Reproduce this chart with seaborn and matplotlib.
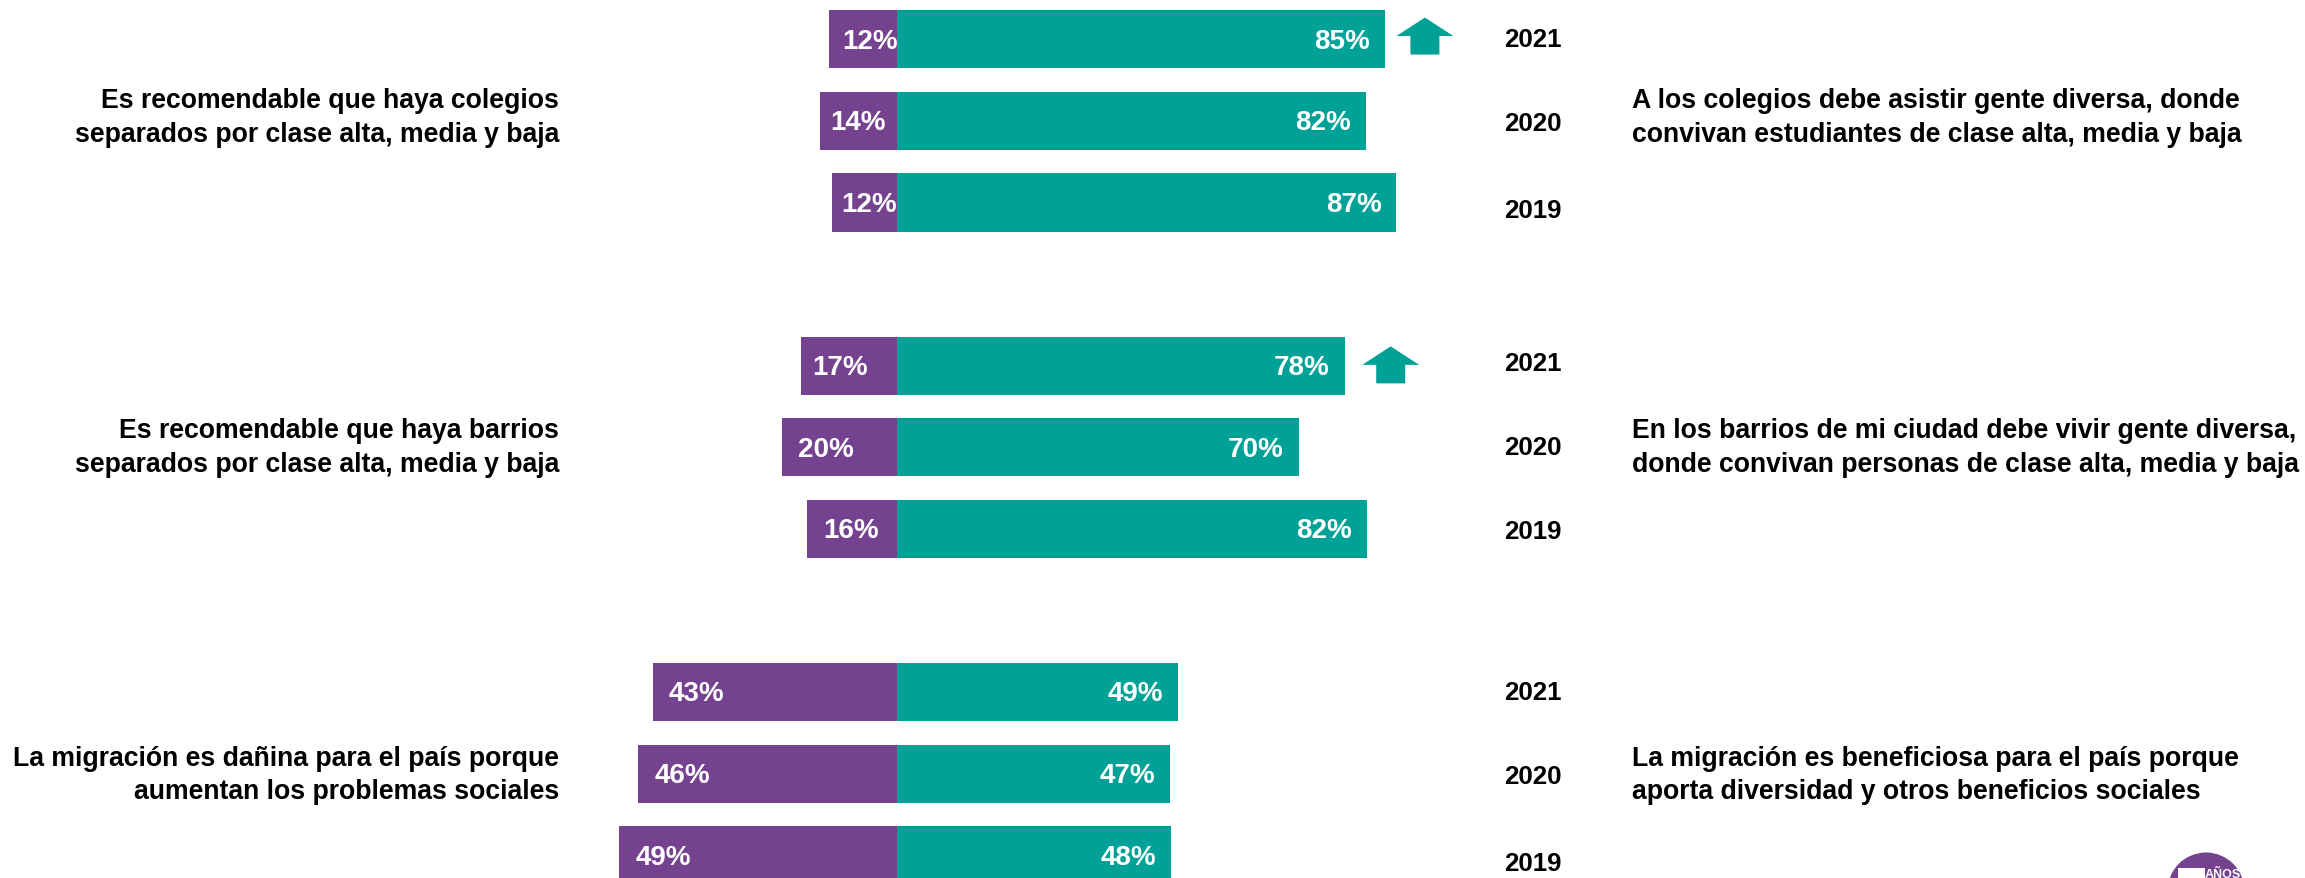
import pandas as pd
import matplotlib
matplotlib.use("Agg")
import matplotlib.pyplot as plt
from matplotlib.patches import Circle, Polygon, Rectangle
from matplotlib.transforms import IdentityTransform
import seaborn as sns

years = ["2021", "2020", "2019"]
groups = ["colegios", "barrios", "migracion"]

# bar lengths, labels as printed on the bars
separados = [11.8, 13.4, 11.3, 16.8, 20, 15.6, 42.5, 45.1, 48.4]
diversa = [85, 81.7, 87, 78, 70, 81.9, 49, 47.6, 47.8]
separados_labels = ["12%", "14%", "12%", "17%", "20%", "16%", "43%", "46%", "49%"]
diversa_labels = ["85%", "82%", "87%", "78%", "70%", "82%", "49%", "47%", "48%"]

left_texts = [
    "Es recomendable que haya colegios\nseparados por clase alta, media y baja",
    "Es recomendable que haya barrios\nseparados por clase alta, media y baja",
    "La migración es dañina para el país porque\naumentan los problemas sociales",
]
right_texts = [
    "A los colegios debe asistir gente diversa, donde\nconvivan estudiantes de clase alta, media y baja",
    "En los barrios de mi ciudad debe vivir gente diversa,\ndonde convivan personas de clase alta, media y baja",
    "La migración es beneficiosa para el país porque\naporta diversidad y otros beneficios sociales",
]

PURPLE = "#75428F"
TEAL = "#00A298"
W, H = 2305, 879
PX_PER_PCT = 5.74
CENTER_X = 897
ROW_PX = 81.6
FIRST_ROW_Y = 40.3


def build_table():
    rows = []
    order = []
    i = 0
    for g, group in enumerate(groups):
        for year in years:
            key = f"{group} {year}"
            order.append(key)
            rows.append({"row": key, "side": "separados", "value": -separados[i]})
            rows.append({"row": key, "side": "diversa", "value": diversa[i]})
            i += 1
        if g < len(groups) - 1:
            order.append(f"blank {g}")
    return pd.DataFrame(rows), order


def draw_arrow(ax, x, y):
    # size is given in pixels and turned into data units
    dx = 28.5 / PX_PER_PCT
    sx = 14.5 / PX_PER_PCT
    top, mid, bottom = y - 18.5 / ROW_PX, y, y + 18.5 / ROW_PX
    pts = [(x, top), (x + dx, mid), (x + sx, mid), (x + sx, bottom),
           (x - sx, bottom), (x - sx, mid), (x - dx, mid)]
    ax.add_patch(Polygon(pts, closed=True, facecolor=TEAL, edgecolor="none"))


def draw_logo(fig):
    tr = IdentityTransform()
    fig.add_artist(Circle((2206, H - 892), 38.5, facecolor=PURPLE, edgecolor="none", transform=tr))
    fig.add_artist(Rectangle((2178, 0), 27, H - 869, facecolor="white", edgecolor="none", transform=tr))
    fig.text(2222.5 / W, 1 - 875 / H, "AÑOS", color="white", fontsize=9, fontweight="bold",
             ha="center", va="center")


def main():
    sns.set_theme(style="white")
    plt.rcParams["font.family"] = ["Liberation Sans", "DejaVu Sans"]

    df, order = build_table()
    fig = plt.figure(figsize=(W / 100, H / 100), dpi=100)
    ax = fig.add_axes([0, 0, 1, 1])
    sns.barplot(
        data=df, x="value", y="row", hue="side", order=order,
        hue_order=["separados", "diversa"],
        palette={"separados": PURPLE, "diversa": TEAL},
        dodge=False, width=0.715, linewidth=0, saturation=1, legend=False, ax=ax,
    )
    ax.set_xlim(-CENTER_X / PX_PER_PCT, (W - CENTER_X) / PX_PER_PCT)
    ax.set_ylim((H - FIRST_ROW_Y) / ROW_PX, -FIRST_ROW_Y / ROW_PX)
    ax.axis("off")

    left_pad = [13, 10, 9, 12, 16, 16, 16, 16, 16]
    year_shift = [0, 0.03, 0.09, -0.03, 0, 0.03, 0, 0.03, 0.09]
    text_shift = [-0.05, 0, 0.01]
    pos = [order.index(f"{g} {y}") for g in groups for y in years]

    for i, y in enumerate(pos):
        ax.annotate(separados_labels[i], (-separados[i], y), xytext=(left_pad[i] * 0.72, -1),
                    textcoords="offset points", color="white", fontsize=20, fontweight="bold",
                    ha="left", va="center")
        ax.annotate(diversa_labels[i], (diversa[i], y), xytext=(-15 * 0.72, -1),
                    textcoords="offset points", color="white", fontsize=20, fontweight="bold",
                    ha="right", va="center")
        ax.text((1504 - CENTER_X) / PX_PER_PCT, y + year_shift[i], years[i % 3], color="black",
                fontsize=18.6, fontweight="bold", ha="left", va="center")

    for g in range(3):
        y = pos[g * 3 + 1] + text_shift[g]
        ax.text((559 - CENTER_X) / PX_PER_PCT, y, left_texts[g], color="black", fontsize=19.2,
                fontweight="bold", ha="right", va="center", linespacing=1.38)
        ax.text((1632 - CENTER_X) / PX_PER_PCT, y, right_texts[g], color="black", fontsize=19.2,
                fontweight="bold", ha="left", va="center", linespacing=1.38)

    draw_arrow(ax, diversa[0] + 40 / PX_PER_PCT, pos[0] - 0.04)
    draw_arrow(ax, diversa[3] + 46 / PX_PER_PCT, pos[3] - 0.01)
    draw_logo(fig)

    fig.savefig("out.png", dpi=100)


if __name__ == "__main__":
    main()
